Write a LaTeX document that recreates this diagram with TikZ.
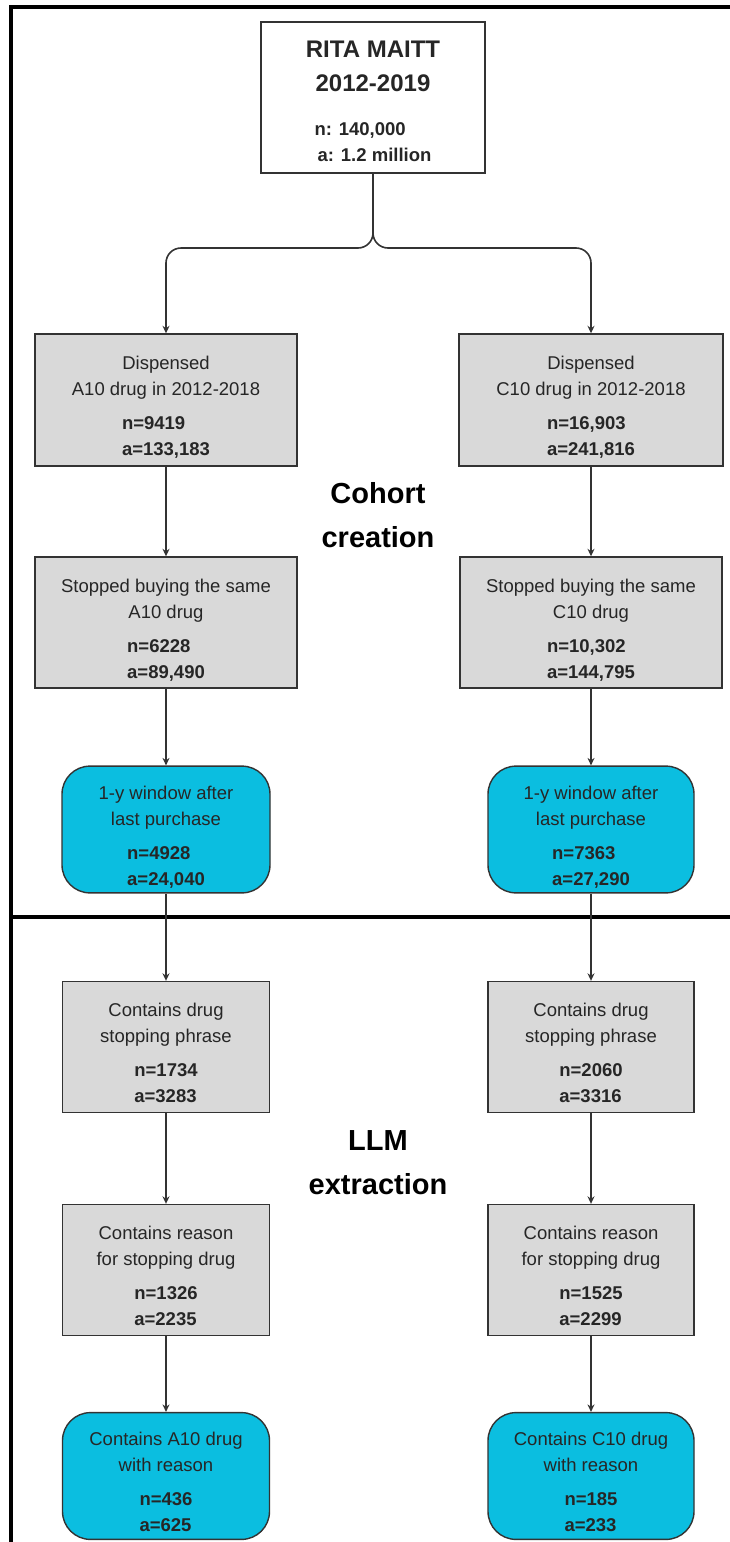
\documentclass[tikz,border=0pt]{standalone}
\usepackage{fontspec}
\setmainfont{Liberation Sans}
\usetikzlibrary{arrows.meta}
\definecolor{boxgray}{RGB}{217,217,217}
\definecolor{boxcyan}{RGB}{11,190,224}
\definecolor{edgegray}{RGB}{51,51,51}
\newcommand{\numpair}[2]{\begin{tabular}[t]{@{}l@{}}\textbf{#1}\\\textbf{#2}\end{tabular}}
\newcommand{\boxstrut}{\rule{0pt}{33pt}}
\newcommand{\titlestrut}{\rule{0pt}{31pt}}
\begin{document}
\begin{tikzpicture}[x=1pt,y=-1pt,
  basebox/.style={draw=edgegray, line width=1.4pt, align=center, inner sep=0pt,
    font=\fontsize{18.5}{26}\selectfont, text=black!85},
  graybox/.style={basebox, fill=boxgray},
  cyanbox/.style={basebox, fill=boxcyan, rounded corners=28pt},
  topbox/.style={basebox, fill=white},
  flow/.style={draw=edgegray, line width=1.6pt, -{Stealth[length=7.5pt,width=7pt]}},
  frameline/.style={line width=3.5pt, black},
  seclabel/.style={font=\fontsize{29}{44}\selectfont\bfseries, align=center, inner sep=0pt}]
\useasboundingbox (0,0) rectangle (730,1542);
% frame
\draw[frameline] (11,7) -- (730,7);
\draw[frameline] (11,5.25) -- (11,1542);
\draw[frameline] (11,917) -- (730,917);
% top
\node[topbox, minimum width=224pt, minimum height=151pt] (top) at (373,97.5)
  {\titlestrut{\fontsize{24}{26}\selectfont\bfseries RITA MAITT}\\[8pt]
   {\fontsize{24}{26}\selectfont\bfseries 2012-2019}\\[18pt]
   \numpair{n: 140,000}{\,a: 1.2 million}};
% left column
\node[graybox, minimum width=262pt, minimum height=132pt] (A1) at (166,400)
  {\boxstrut Dispensed\\A10 drug in 2012-2018\\[8pt]\numpair{n=9419}{a=133,183}};
\node[graybox, minimum width=262pt, minimum height=131pt] (A2) at (166,622.5)
  {\boxstrut Stopped buying the same\\A10 drug\\[8pt]\numpair{n=6228}{a=89,490}};
\node[cyanbox, minimum width=208pt, minimum height=125pt] (A3) at (166,829.5)
  {\boxstrut 1-y window after\\last purchase\\[8pt]\numpair{n=4928}{a=24,040}};
\node[graybox, minimum width=207pt, minimum height=131pt] (A4) at (166,1047)
  {\boxstrut Contains drug\\stopping phrase\\[8pt]\numpair{n=1734}{a=3283}};
\node[graybox, minimum width=207pt, minimum height=131pt] (A5) at (166,1270)
  {\boxstrut Contains reason\\for stopping drug\\[8pt]\numpair{n=1326}{a=2235}};
\node[cyanbox, minimum width=207pt, minimum height=122pt] (A6) at (166,1476)
  {\boxstrut Contains A10 drug\\with reason\\[8pt]\numpair{n=436}{a=625}};
% right column
\node[graybox, minimum width=264pt, minimum height=132pt] (B1) at (591,400)
  {\boxstrut Dispensed\\C10 drug in 2012-2018\\[8pt]\numpair{n=16,903}{a=241,816}};
\node[graybox, minimum width=262pt, minimum height=131pt] (B2) at (591,622.5)
  {\boxstrut Stopped buying the same\\C10 drug\\[8pt]\numpair{n=10,302}{a=144,795}};
\node[cyanbox, minimum width=206pt, minimum height=125pt] (B3) at (591,829.5)
  {\boxstrut 1-y window after\\last purchase\\[8pt]\numpair{n=7363}{a=27,290}};
\node[graybox, minimum width=206pt, minimum height=131pt] (B4) at (591,1047)
  {\boxstrut Contains drug\\stopping phrase\\[8pt]\numpair{n=2060}{a=3316}};
\node[graybox, minimum width=206pt, minimum height=131pt] (B5) at (591,1270)
  {\boxstrut Contains reason\\for stopping drug\\[8pt]\numpair{n=1525}{a=2299}};
\node[cyanbox, minimum width=206pt, minimum height=122pt] (B6) at (591,1476)
  {\boxstrut Contains C10 drug\\with reason\\[8pt]\numpair{n=185}{a=233}};
% section labels
\node[seclabel] (cohort) at (378,515) {Cohort\\creation};
\node[seclabel] (llm) at (378,1163) {LLM\\extraction};
% fork
\coordinate (fork) at (373,248);
\draw[flow, rounded corners=15pt] (top.south) -- (fork) -- (fork -| A1.north) -- (A1.north);
\draw[flow, rounded corners=15pt] (top.south) -- (fork) -- (fork -| B1.north) -- (B1.north);
% chains
\foreach \a/\b in {A1/A2,A2/A3,A3/A4,A4/A5,A5/A6,B1/B2,B2/B3,B3/B4,B4/B5,B5/B6}
  \draw[flow] (\a.south) -- (\b.north);
\end{tikzpicture}
\end{document}
